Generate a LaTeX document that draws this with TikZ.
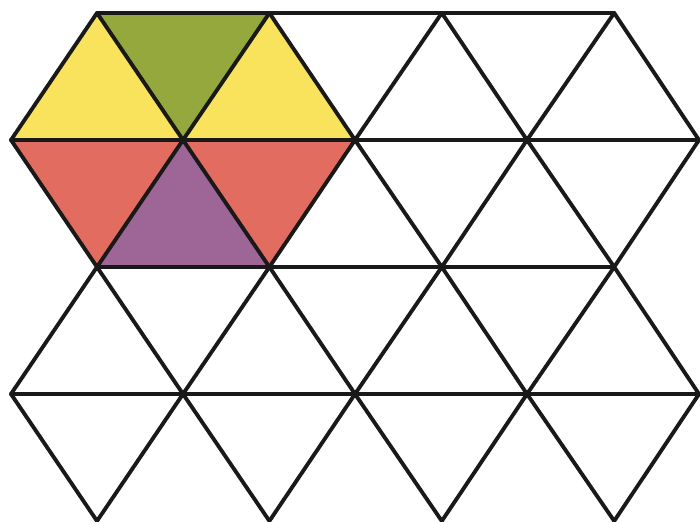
\documentclass[tikz,border=0pt]{standalone}
\definecolor{tyellow}{RGB}{249,226,92}
\definecolor{tgreen}{RGB}{148,168,62}
\definecolor{tred}{RGB}{226,108,96}
\definecolor{tpurple}{RGB}{158,102,150}
\tikzset{gridline/.style={line width=1.1pt,line cap=round,line join=round,black!90}}
\begin{document}
\begin{tikzpicture}[x=0.01cm,y=-0.01cm]
\useasboundingbox (0,0) rectangle (700,521);
% lattice points
\foreach \r in {0,2,4}{
  \foreach \c in {0,...,3}{
    \coordinate (v-\r-\c) at ({97+172.4*\c},{13+127*\r});
  }
}
\foreach \r in {1,3}{
  \foreach \c in {0,...,4}{
    \coordinate (v-\r-\c) at ({11+172*\c},{13+127*\r});
  }
}
% coloured triangles
\fill[tyellow] (v-0-0) -- (v-1-0) -- (v-1-1) -- cycle;
\fill[tyellow] (v-0-1) -- (v-1-1) -- (v-1-2) -- cycle;
\fill[tgreen] (v-0-0) -- (v-0-1) -- (v-1-1) -- cycle;
\fill[tred] (v-1-0) -- (v-1-1) -- (v-2-0) -- cycle;
\fill[tred] (v-1-1) -- (v-1-2) -- (v-2-1) -- cycle;
\fill[tpurple] (v-1-1) -- (v-2-0) -- (v-2-1) -- cycle;
% horizontal lines
\draw[gridline] (v-0-0) -- (v-0-3);
\draw[gridline] (v-1-0) -- (v-1-4);
\draw[gridline] (v-2-0) -- (v-2-3);
\draw[gridline] (v-3-0) -- (v-3-4);
% diagonals
\foreach \r/\a/\b in {0/1/1,2/1/3,4/3/3}{
  \foreach \c [evaluate=\c as \d using int(\c+1)] in {0,...,3}{
    \ifnum\r>0
      \draw[gridline] (v-\r-\c) -- (v-\a-\c);
      \draw[gridline] (v-\r-\c) -- (v-\a-\d);
    \fi
    \ifnum\r<4
      \draw[gridline] (v-\r-\c) -- (v-\b-\c);
      \draw[gridline] (v-\r-\c) -- (v-\b-\d);
    \fi
  }
}
\end{tikzpicture}
\end{document}
